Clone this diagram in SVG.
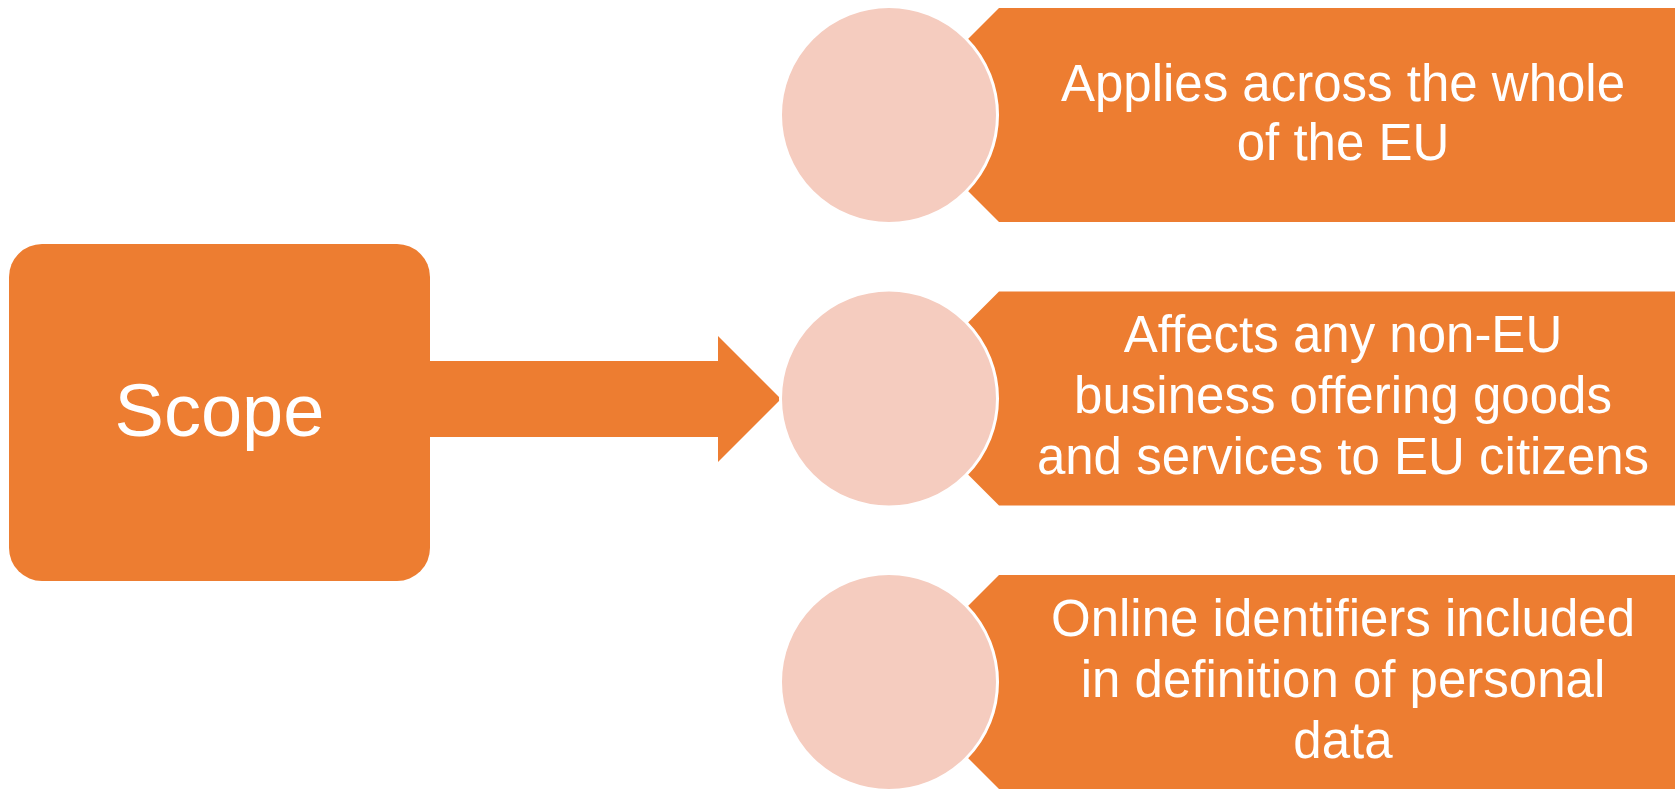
<svg xmlns="http://www.w3.org/2000/svg" width="1675" height="789" viewBox="0 0 1675 789">
<style>
.box{fill:#ED7D31}
.circ{fill:#F5CCBF;stroke:#FFFFFF;stroke-width:3}
.t{fill:#FFFFFF;font-family:"Liberation Sans",Arial,sans-serif;font-size:51px;text-anchor:middle}
.big{font-size:74px}
</style>
<rect width="1675" height="789" fill="#FFFFFF"/>
<g id="scope">
<rect class="box" x="9" y="244" width="421" height="337" rx="33" ry="33"/>
<text class="t big" x="219.5" y="436">Scope</text>
</g>
<g id="connectors">
<polygon class="box" points="428,361 718,361 718,336 781,399 718,462 718,437 428,437"/>
</g>
<g id="item1">
<polygon class="box" points="999,8 1675,8 1675,222 999,222 892,115"/>
<circle class="circ" cx="889" cy="115" r="108.5"/>
<text class="t" x="1343" y="101">Applies across the whole</text>
<text class="t" x="1343" y="160">of the EU</text>
</g>
<g id="item2">
<polygon class="box" points="999,291.5 1675,291.5 1675,505.5 999,505.5 892,398.5"/>
<circle class="circ" cx="889" cy="398.5" r="108.5"/>
<text class="t" x="1343" y="352">Affects any non-EU</text>
<text class="t" x="1343" y="413">business offering goods</text>
<text class="t" x="1343" y="474">and services to EU citizens</text>
</g>
<g id="item3">
<polygon class="box" points="999,575 1675,575 1675,789 999,789 892,682"/>
<circle class="circ" cx="889" cy="682" r="108.5"/>
<text class="t" x="1343" y="636">Online identifiers included</text>
<text class="t" x="1343" y="697">in definition of personal</text>
<text class="t" x="1343" y="758">data</text>
</g>
</svg>
